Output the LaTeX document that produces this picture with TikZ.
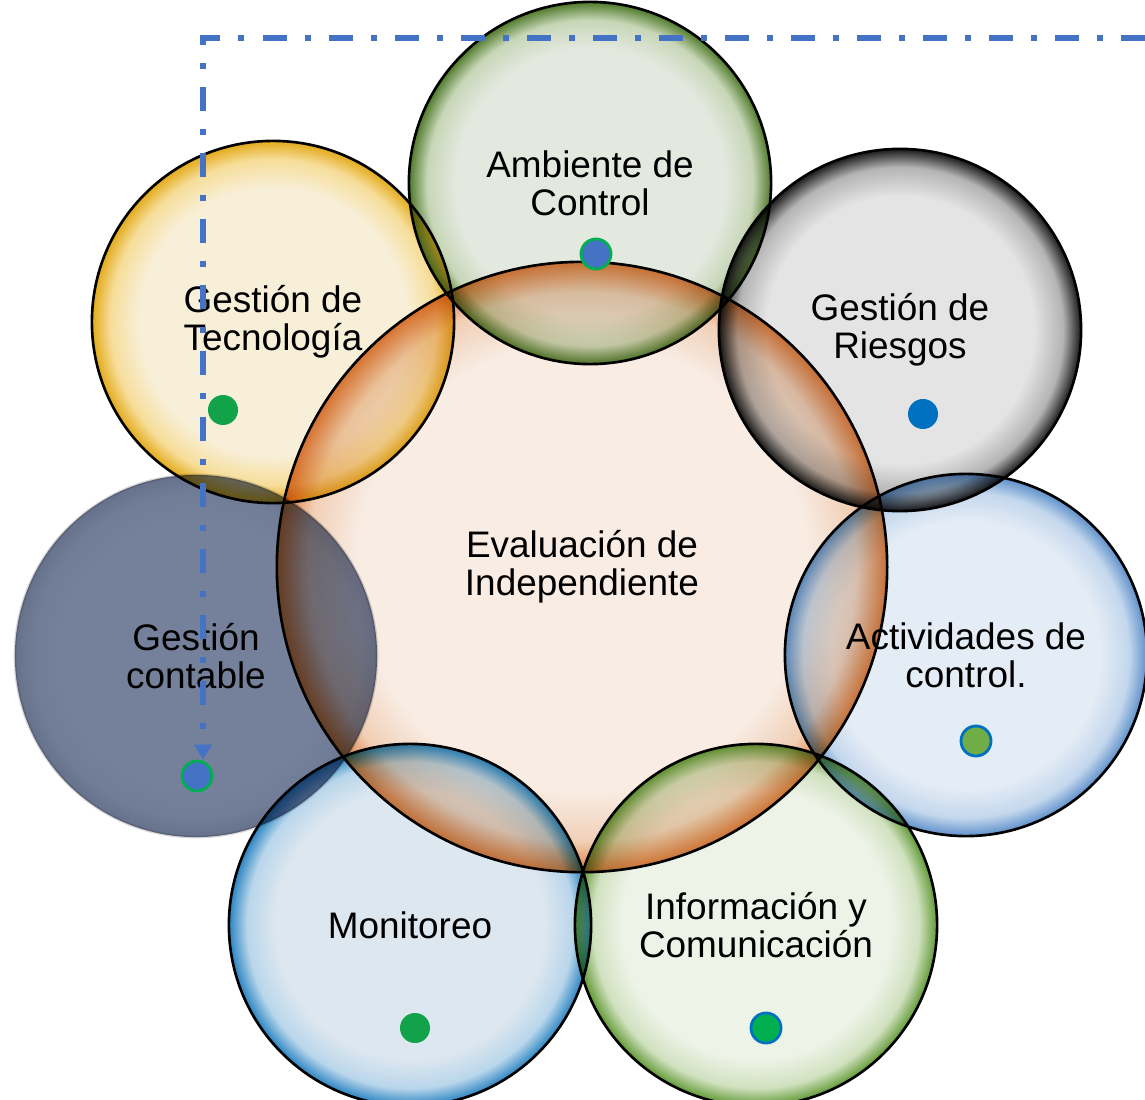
\documentclass[tikz,border=0pt]{standalone}
\usepackage{fontspec}
\setmainfont{Liberation Sans}
\usetikzlibrary{positioning, arrows.meta}

\definecolor{ambIn}{HTML}{E4E9E0}
\definecolor{ambMid}{HTML}{C7D6B7}
\definecolor{ambRim}{HTML}{4F7A2A}
\definecolor{riesIn}{HTML}{E4E4E4}
\definecolor{riesMid}{HTML}{B4B4B4}
\definecolor{riesRim}{HTML}{1A1A1A}
\definecolor{actIn}{HTML}{E4ECF5}
\definecolor{actMid}{HTML}{C3D7ED}
\definecolor{actRim}{HTML}{5E90CA}
\definecolor{infIn}{HTML}{EEF3E8}
\definecolor{infMid}{HTML}{D0E1BF}
\definecolor{infRim}{HTML}{629A36}
\definecolor{monIn}{HTML}{DDE7EF}
\definecolor{monMid}{HTML}{B9D6EB}
\definecolor{monRim}{HTML}{2A84C2}
\definecolor{contIn}{HTML}{75809A}
\definecolor{contMid}{HTML}{717C96}
\definecolor{contRim}{HTML}{66718C}
\definecolor{tecIn}{HTML}{F8EFD8}
\definecolor{tecMid}{HTML}{F6DD98}
\definecolor{tecRim}{HTML}{E3AA1A}
\definecolor{evalIn}{HTML}{F8ECE3}
\definecolor{evalMid}{HTML}{F1CFB6}
\definecolor{evalRim}{HTML}{DD7A3A}
\definecolor{lineBlue}{HTML}{4472C4}
\definecolor{dotBlue}{HTML}{4472C4}
\definecolor{dotBlueB}{HTML}{0070C0}
\definecolor{dotGreen}{HTML}{00B050}
\definecolor{dotGreenB}{HTML}{12A24A}
\definecolor{dotOlive}{HTML}{70AD47}

% bubble shadings: light inside, coloured rim
\newcommand{\bubbleshade}[4]{%
  \pgfdeclareradialshading{#1}{\pgfpoint{0bp}{0bp}}{%
    color(0bp)=(#2); color(18.5bp)=(#2); color(22.5bp)=(#3);
    color(25bp)=(#4); color(50bp)=(#4)}}
\bubbleshade{ambShade}{ambIn}{ambMid}{ambRim}
\bubbleshade{riesShade}{riesIn}{riesMid}{riesRim}
\bubbleshade{actShade}{actIn}{actMid}{actRim}
\bubbleshade{infShade}{infIn}{infMid}{infRim}
\bubbleshade{monShade}{monIn}{monMid}{monRim}
\bubbleshade{contShade}{contIn}{contMid}{contRim}
\bubbleshade{tecShade}{tecIn}{tecMid}{tecRim}
\bubbleshade{evalShade}{evalIn}{evalMid}{evalRim}

\tikzset{
  bubble/.style={circle, inner sep=0pt, minimum size=3.62cm, align=center,
    shade, blend mode=multiply,
    font=\fontsize{10.5}{10.9}\selectfont},
  hub/.style={bubble, minimum size=6.1cm},
  ring/.style={draw=black, line width=0.75pt},
  dot/.style={circle, inner sep=0pt, minimum size=0.3cm, line width=0.8pt},
  flow/.style={lineBlue, line width=1.5pt,
    dash pattern=on 0.24cm off 0.18cm on 0.06cm off 0.18cm,
    -{Triangle[length=0.15cm, width=0.17cm]}}
}

\begin{document}
\begin{tikzpicture}[x=0.01cm, y=-0.01cm]
  \useasboundingbox[fill=white] (0,0) rectangle (1145,1100);

  % bubbles
  \node[hub, shading=evalShade] (eval) at (582,567) {Evaluación de\\Independiente};
  \node[bubble, shading=ambShade] (amb) at (590,183) {Ambiente de\\Control};
  \node[bubble, shading=riesShade] (ries) at (900,330) {Gestión de\\Riesgos};
  \node[bubble, shading=actShade] (act) at (966,655) {Actividades de\\control.};
  \node[bubble, shading=infShade] (inf) at (756,925) {Información y\\Comunicación};
  \node[bubble, shading=monShade] (mon) at (410,925) {Monitoreo};
  \node[bubble, shading=contShade] (cont) at (196,656) {Gestión\\contable};
  \node[bubble, shading=tecShade] (tec) at (273,322) {Gestión de\\Tecnología};

  % outlines on top
  \draw[ring] (eval.center) circle[radius=3.05cm];
  \foreach \n in {amb,ries,act,inf,mon,tec}
    \draw[ring] (\n.center) circle[radius=1.81cm];
  \draw[ring, draw opacity=0.15] (cont.center) circle[radius=1.81cm];

  % markers
  \node[dot, fill=dotBlue, draw=dotGreen] (dAmb) at (596,254) {};
  \node[dot, fill=dotBlueB] (dRies) at (923,414) {};
  \node[dot, fill=dotOlive, draw=dotBlueB] (dAct) at (976,741) {};
  \node[dot, fill=dotGreen, draw=dotBlueB] (dInf) at (766,1028) {};
  \node[dot, fill=dotGreenB] (dMon) at (415,1028) {};
  \node[dot, fill=dotBlue, draw=dotGreen] (dCont) at (197,776) {};
  \node[dot, fill=dotGreenB] (dTec) at (223,410) {};

  \coordinate (lineStart) at (1145,38);
  \coordinate (corner) at (203,38);
  \draw[flow] (lineStart) -- (corner) -- (corner |- dCont.north);
\end{tikzpicture}
\end{document}
